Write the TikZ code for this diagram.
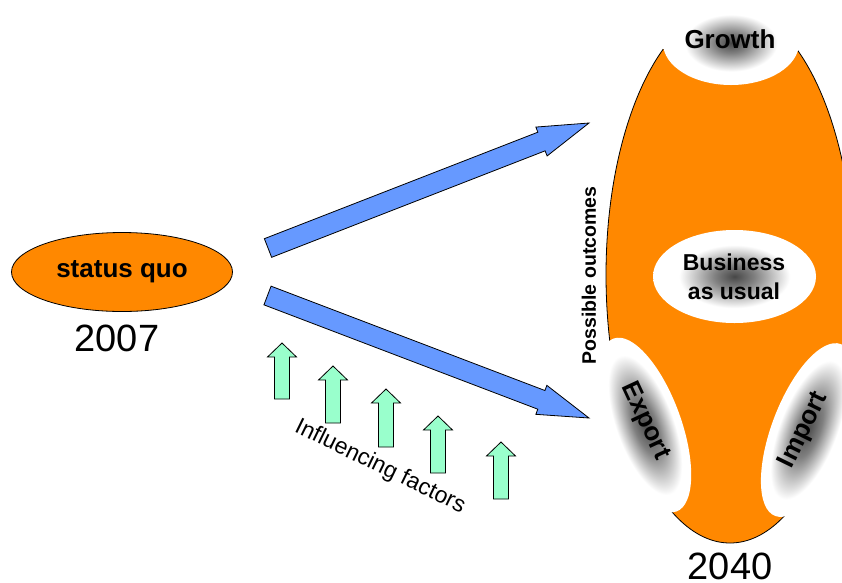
\documentclass[tikz,border=0pt]{standalone}
\usepackage{fontspec}
\setmainfont{Liberation Sans}
\usetikzlibrary{shapes.geometric,calc}
\definecolor{orng}{HTML}{FF8800}
\definecolor{bluear}{HTML}{6699FF}
\definecolor{greenar}{HTML}{99FFCC}
\pgfdeclareradialshading{cutshade}{\pgfpoint{0bp}{0bp}}{color(0bp)=(black!72); color(6bp)=(black!50); color(17bp)=(white); color(50bp)=(white)}
\pgfdeclareradialshading{sideshade}{\pgfpoint{0bp}{0bp}}{color(0bp)=(black!70); color(8bp)=(black!50); color(20bp)=(white); color(50bp)=(white)}
\newcommand\blockarrow[6]{% #1 tail, #2 tip, #3 shaft half, #4 head half, #5 head length, #6 style
  \coordinate (#1-h) at ($(#2)!#5!(#1)$);
  \draw[#6] ($(#1)!#3!90:(#2)$) -- ($(#1-h)!#3!90:(#2)$) -- ($(#1-h)!#4!90:(#2)$) -- (#2)
    -- ($(#1-h)!#4!-90:(#2)$) -- ($(#1-h)!#3!-90:(#2)$) -- ($(#1)!#3!-90:(#2)$) -- cycle;
}
\begin{document}
\begin{tikzpicture}[x=1pt,y=-1pt,
  outline/.style={draw=black,line width=0.8pt},
  bluearrowstyle/.style={outline, fill=bluear, line join=miter},
  greenarrowstyle/.style={outline, fill=greenar, line join=miter},
  cut/.style={ellipse, shading=cutshade, inner sep=0pt, draw=none},
  lbl/.style={font=\bfseries\fontsize{26}{30}\selectfont, inner sep=0pt},
  year/.style={font=\fontsize{38}{42}\selectfont, inner sep=0pt}
]
\useasboundingbox (0,0) rectangle (842,582);

% left
\node[ellipse, outline, fill=orng, minimum width=221pt, minimum height=79pt, inner sep=0pt,
  font=\bfseries\fontsize{26}{30}\selectfont] (sq) at (122,272) {status quo};
\node[year] (y2007) at (117,338) {2007};

% outcome ellipse
\node[ellipse, outline, fill=orng, minimum width=248pt, minimum height=536pt, inner sep=0pt] (outcomes) at (730,275) {};
\node[cut, minimum width=136pt, minimum height=84pt] (growth) at (731,43) {};
\node[cut, minimum width=163pt, minimum height=93pt] (bau) at (734.5,276.5) {};
\begin{scope}[transform canvas={rotate around={-70:(645,425)}}]
  \shade[shading=sideshade] (645,425) ellipse [x radius=92pt, y radius=36pt];
\end{scope}
\begin{scope}[transform canvas={rotate around={69:(808,430)}}]
  \shade[shading=sideshade] (808,430) ellipse [x radius=92pt, y radius=36pt];
\end{scope}

\node[lbl] (growthtxt) at (730,39) {Growth};
\node[font=\bfseries\fontsize{23}{29}\selectfont, align=center, inner sep=0pt] (bautxt) at (734,277) {Business\\as usual};
\node[lbl, rotate=-65] (exporttxt) at (645,421) {Export};
\node[lbl, rotate=64] (importtxt) at (804,430) {Import};
\node[font=\bfseries\fontsize{19.5}{22}\selectfont, rotate=90, inner sep=0pt] (po) at (589,275.5) {Possible outcomes};
\node[year] (y2040) at (730,566) {2040};

% blue arrows
\coordinate (upT) at (268,248);
\coordinate (upP) at (589,123);
\coordinate (loT) at (267.5,295.5);
\coordinate (loP) at (589,418);
\blockarrow{upT}{upP}{10pt}{15.5pt}{51pt}{bluearrowstyle}
\blockarrow{loT}{loP}{10pt}{15.5pt}{51pt}{bluearrowstyle}

% green arrows
\coordinate (g1T) at (282,399); \coordinate (g1P) at (282,343);
\coordinate (g2T) at (333,423); \coordinate (g2P) at (333,366);
\coordinate (g3T) at (386,447); \coordinate (g3P) at (386,389);
\coordinate (g4T) at (438,473); \coordinate (g4P) at (438,416);
\coordinate (g5T) at (501,499); \coordinate (g5P) at (501,442);
\blockarrow{g1T}{g1P}{7.5pt}{14.5pt}{14pt}{greenarrowstyle}
\blockarrow{g2T}{g2P}{7.5pt}{14.5pt}{14pt}{greenarrowstyle}
\blockarrow{g3T}{g3P}{7.5pt}{14.5pt}{14pt}{greenarrowstyle}
\blockarrow{g4T}{g4P}{7.5pt}{14.5pt}{14pt}{greenarrowstyle}
\blockarrow{g5T}{g5P}{7.5pt}{14.5pt}{14pt}{greenarrowstyle}

\node[font=\fontsize{23}{26}\selectfont, rotate=-26, inner sep=0pt] (inf) at (380,467) {Influencing factors};
\end{tikzpicture}
\end{document}
